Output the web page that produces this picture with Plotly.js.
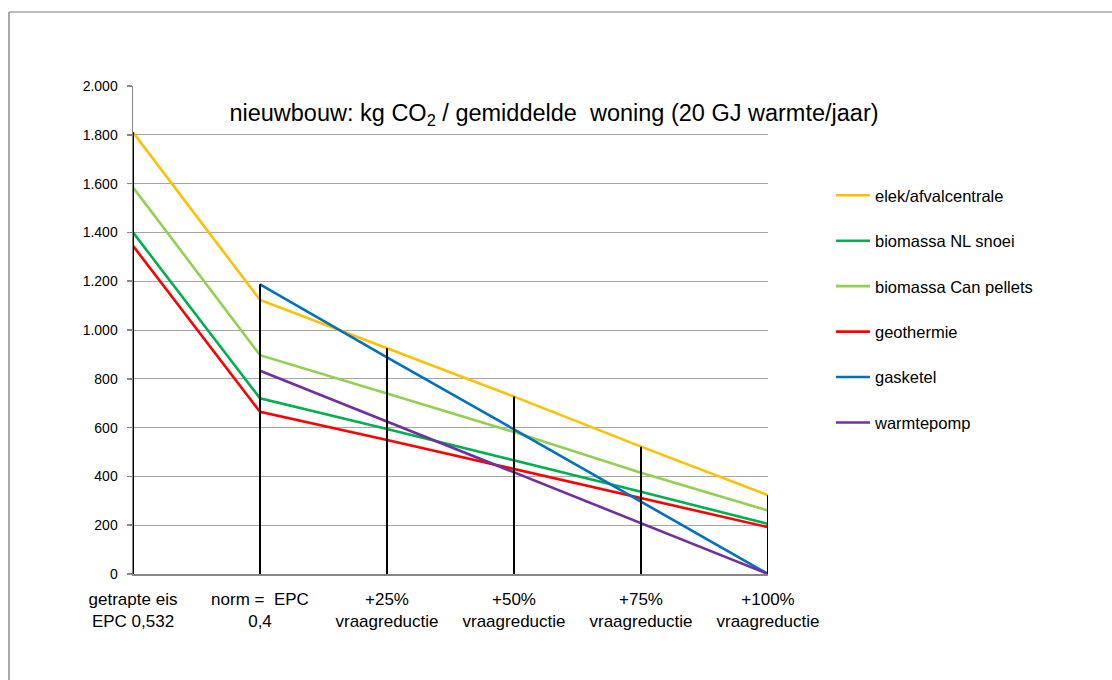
<!DOCTYPE html>
<html>
<head>
<meta charset="utf-8">
<script src="https://cdn.plot.ly/plotly-3.0.1.min.js"></script>
<style>
html,body{margin:0;padding:0;background:#fff;}
#chart{width:1112px;height:680px;}
</style>
</head>
<body>
<div id="chart"></div>
<script>
var categories = ["getrapte eis<br>EPC 0,532", "norm =  EPC<br>0,4", "+25%<br>vraagreductie", "+50%<br>vraagreductie", "+75%<br>vraagreductie", "+100%<br>vraagreductie"];
var elek = [1810, 1123, 925, 727, 522, 323];
var biomassaNL = [1400, 720, 594, 467, 337, 205];
var biomassaCan = [1585, 897, 740, 582, 415, 260];
var geothermie = [1345, 665, 549, 429, 310, 192];
var gasketel = [null, 1187, 888, 593, 296, 0];
var warmtepomp = [null, 833, 624, 416, 208, 0];

var seriesNames = ["elek/afvalcentrale", "biomassa NL snoei", "biomassa Can pellets", "geothermie", "gasketel", "warmtepomp"];
var seriesData = [elek, biomassaNL, biomassaCan, geothermie, gasketel, warmtepomp];
var seriesColors = ["#FFC000", "#00B050", "#92D050", "#FF0000", "#0070C0", "#7030A0"];

var idx = categories.map(function(c, i){ return i; });
var FONT = "Liberation Sans, Arial, sans-serif";

var traces = seriesData.map(function(d, k){
  return {
    x: idx, y: d, type: "scatter", mode: "lines",
    name: seriesNames[k], legendgroup: "g" + k,
    line: {color: seriesColors[k], width: 2.6},
    connectgaps: false, cliponaxis: false, hoverinfo: "skip"
  };
});

// drop lines from the highest value of each category down to the axis
var dx = [], dy = [];
idx.forEach(function(i){
  var m = -Infinity;
  seriesData.forEach(function(d){ if (d[i] !== null && d[i] > m) m = d[i]; });
  dx.push(i, i, null); dy.push(0, m, null);
});
traces.push({
  x: dx, y: dy, type: "scatter", mode: "lines", showlegend: false,
  line: {color: "#000000", width: 2}, cliponaxis: false, hoverinfo: "skip"
});

var L = 133, R = 768, T = 86, B = 574;
var pw = R - L, ph = B - T;
function px(x){ return (x - L) / pw; }
function py(y){ return (B - y) / ph; }

var layout = {
  width: 1112, height: 680,
  margin: {l: L, r: 1112 - R, t: T, b: 680 - B, pad: 0},
  paper_bgcolor: "#ffffff", plot_bgcolor: "#ffffff",
  separators: ",.",
  font: {family: FONT, size: 16, color: "#000000"},
  title: {
    text: "nieuwbouw: kg CO<sub>2</sub> / gemiddelde  woning (20 GJ warmte/jaar)",
    font: {family: FONT, size: 23.5, color: "#000000"},
    x: px(554), xref: "paper", xanchor: "center",
    y: py(113), yref: "paper", yanchor: "middle"
  },
  xaxis: {
    range: [0, 5], tickmode: "array", tickvals: idx, ticktext: categories,
    showgrid: false, zeroline: false, showline: true, linecolor: "#868686", linewidth: 1.5,
    ticks: "", tickfont: {family: FONT, size: 17, color: "#000"}, ticklabelstandoff: 9,
    fixedrange: true
  },
  yaxis: {
    range: [0, 2000], tickmode: "linear", tick0: 0, dtick: 200, tickformat: ",d",
    showgrid: true, gridcolor: "#A6A6A6", gridwidth: 1,
    zeroline: false, showline: true, linecolor: "#868686", linewidth: 1.5,
    ticks: "outside", ticklen: 5, tickcolor: "#868686", tickwidth: 1.5,
    tickfont: {family: FONT, size: 14, color: "#000"}, ticklabelstandoff: 6,
    fixedrange: true
  },
  legend: {
    x: px(831), xanchor: "left", y: py(178), yanchor: "top",
    font: {family: FONT, size: 16.5, color: "#000"},
    tracegroupgap: 21, bgcolor: "rgba(0,0,0,0)", itemwidth: 34
  },
  showlegend: true,
  shapes: [
    {type: "line", xref: "paper", yref: "paper", x0: px(9), x1: px(9), y0: py(700), y1: py(12),
     line: {color: "#8C8C8C", width: 1.5}},
    {type: "line", xref: "paper", yref: "paper", x0: px(9), x1: px(1130), y0: py(12), y1: py(12),
     line: {color: "#A6A6A6", width: 1.5}}
  ]
};

Plotly.newPlot("chart", traces, layout, {displayModeBar: false, staticPlot: true});
</script>
</body>
</html>
